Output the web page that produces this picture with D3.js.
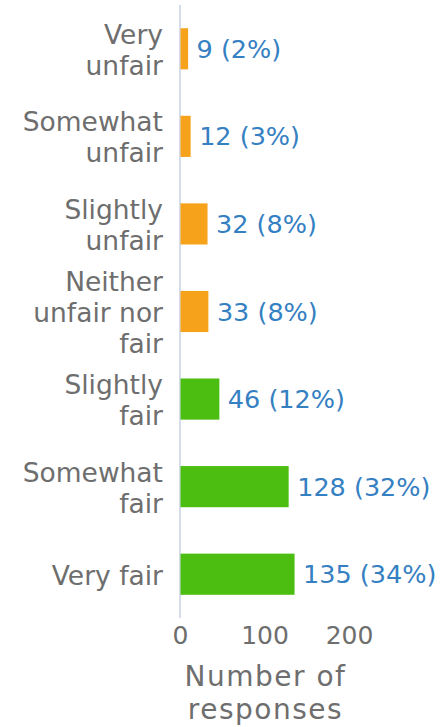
<!DOCTYPE html>
<html><head><meta charset="utf-8">
<script src="https://cdn.jsdelivr.net/npm/d3@7"></script>
<style>body{margin:0;background:#fff}</style>
</head><body>
<script>
const categories = [["Very","unfair"],["Somewhat","unfair"],["Slightly","unfair"],["Neither","unfair nor","fair"],["Slightly","fair"],["Somewhat","fair"],["Very fair"]];
const counts = [9, 12, 32, 33, 46, 128, 135];
const percents = ["2%","3%","8%","8%","12%","32%","34%"];
const groups = ["unfair","unfair","unfair","unfair","fair","fair","fair"];
const ticks = [0, 100, 200];
const axisTitle = ["Number of","responses"];

const W = 442, H = 727;
const font = "DejaVu Sans, sans-serif";
const svg = d3.select("body").append("svg").attr("width", W).attr("height", H);

const x = d3.scaleLinear().domain([0, 200]).range([180, 349]);
const y = d3.scaleBand().domain(d3.range(categories.length)).range([5, 618]).paddingInner(0.53).paddingOuter(0.265);
const color = d3.scaleOrdinal().domain(["unfair","fair"]).range(["#f7a21b","#4cbe12"]);

// axis line
svg.append("line").attr("x1", x(0)).attr("x2", x(0)).attr("y1", 5).attr("y2", 618)
  .attr("stroke", "#c9d2e3").attr("stroke-width", 1.5);

svg.selectAll("rect.bar").data(counts).join("rect").attr("class","bar")
  .attr("x", x(0) + 0.5).attr("y", (d,i) => y(i)).attr("height", y.bandwidth())
  .attr("width", d => x(d) - x(0)).attr("fill", (d,i) => color(groups[i]));

// value labels
svg.selectAll("text.val").data(counts).join("text").attr("class","val")
  .attr("x", d => x(d) + 9).attr("y", (d,i) => y(i) + y.bandwidth()/2 + 9)
  .attr("font-family", font).attr("font-size", 25.5).attr("fill", "#3580c2")
  .text((d,i) => `${d} (${percents[i]})`);

// category labels
const lh = 31;
svg.selectAll("text.cat").data(categories).join("text").attr("class","cat")
  .attr("text-anchor","end").attr("font-family", font).attr("font-size", 26.5).attr("fill", "#6e6e6e")
  .each(function(lines, i){
    const cy = y(i) + y.bandwidth()/2;
    const t = d3.select(this);
    lines.forEach((ln, k) => {
      t.append("tspan").attr("x", 163)
        .attr("y", cy + 9.5 + (k - (lines.length-1)/2) * lh + 1)
        .text(ln);
    });
  });

// x tick labels
const xAxis = d3.axisBottom(x).tickValues(ticks).tickSize(0).tickPadding(0);
const gx = svg.append("g").attr("transform", "translate(0,620)").call(xAxis);
gx.select(".domain").remove();
gx.selectAll("text").attr("font-family", font).attr("font-size", 25).attr("fill", "#6e6e6e")
  .attr("dy", null).attr("y", 24);

// axis title
svg.selectAll("text.title").data(axisTitle).join("text").attr("class","title")
  .attr("text-anchor","middle").attr("font-family", font).attr("font-size", 28)
  .attr("letter-spacing", 1.5).attr("fill","#6e6e6e")
  .attr("x", x(100) + 1).attr("y", (d,i) => 686 + i*33).text(d => d);
</script>
</body></html>
